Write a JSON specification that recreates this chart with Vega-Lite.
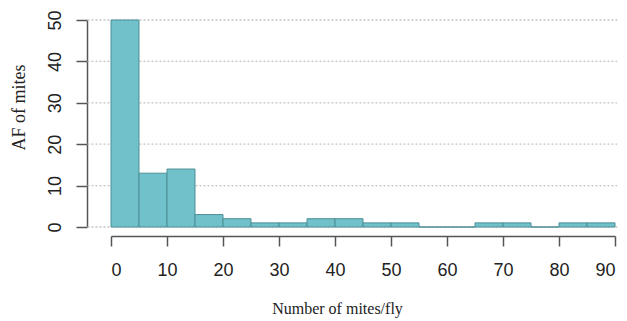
{
  "$schema": "https://vega.github.io/schema/vega-lite/v6.json",
  "autosize": {"type": "none"},
  "width": 504,
  "height": 207,
  "padding": {"left": 111, "top": 20, "right": 12, "bottom": 94},
  "background": "white",
  "config": {"view": {"stroke": null}},
  "layer": [
    {
      "data": {"values": [{"count": 0}, {"count": 10}, {"count": 20}, {"count": 30}, {"count": 40}, {"count": 50}]},
      "mark": {"type": "rule", "color": "#c4c4c4", "strokeWidth": 1.3, "strokeDash": [2, 2]},
      "encoding": {
        "y": {
          "field": "count", "type": "quantitative",
          "scale": {"domain": [0, 50], "nice": false},
          "axis": {
            "values": [0, 10, 20, 30, 40, 50],
            "offset": 24, "grid": false,
            "domainColor": "#555555", "domainWidth": 1.5,
            "tickColor": "#555555", "tickWidth": 1.5, "tickSize": 11,
            "labelFont": "Liberation Sans", "labelFontSize": 18, "labelColor": "#222222",
            "labelAngle": 270, "labelAlign": "center", "labelBaseline": "bottom", "labelPadding": 12,
            "title": "AF of mites",
            "titleFont": "Liberation Serif", "titleFontSize": 18, "titleFontWeight": "normal", "titleColor": "#222222",
            "titlePadding": 18, "titleY": 87
          }
        },
        "x": {"datum": -4.2, "type": "quantitative", "scale": {"domain": [0, 90], "nice": false}},
        "x2": {"datum": 90.4}
      }
    },
    {
      "data": {"values": [
        {"start": 0, "end": 5, "count": 50},
        {"start": 5, "end": 10, "count": 13},
        {"start": 10, "end": 15, "count": 14},
        {"start": 15, "end": 20, "count": 3},
        {"start": 20, "end": 25, "count": 2},
        {"start": 25, "end": 30, "count": 1},
        {"start": 30, "end": 35, "count": 1},
        {"start": 35, "end": 40, "count": 2},
        {"start": 40, "end": 45, "count": 2},
        {"start": 45, "end": 50, "count": 1},
        {"start": 50, "end": 55, "count": 1},
        {"start": 55, "end": 60, "count": 0},
        {"start": 60, "end": 65, "count": 0},
        {"start": 65, "end": 70, "count": 1},
        {"start": 70, "end": 75, "count": 1},
        {"start": 75, "end": 80, "count": 0},
        {"start": 80, "end": 85, "count": 1},
        {"start": 85, "end": 90, "count": 1}
      ]},
      "mark": {"type": "rect", "fill": "#70c1ca", "stroke": "#4d8f96", "strokeWidth": 1},
      "encoding": {
        "x": {
          "field": "start", "type": "quantitative",
          "scale": {"domain": [0, 90], "nice": false},
          "axis": {
            "values": [0, 10, 20, 30, 40, 50, 60, 70, 80, 90],
            "offset": 9, "grid": false,
            "domainColor": "#555555", "domainWidth": 1.5,
            "tickColor": "#555555", "tickWidth": 1.5, "tickSize": 10,
            "labelFont": "Liberation Sans", "labelFontSize": 18, "labelColor": "#222222", "labelPadding": 15,
            "title": "Number of mites/fly",
            "titleFont": "Liberation Serif", "titleFontSize": 16, "titleFontWeight": "normal", "titleColor": "#222222",
            "titlePadding": 21, "titleX": 226
          }
        },
        "x2": {"field": "end"},
        "y": {
          "field": "count", "type": "quantitative",
          "scale": {"domain": [0, 50], "nice": false},
          "axis": {
            "values": [0, 10, 20, 30, 40, 50],
            "offset": 24, "grid": false,
            "domainColor": "#555555", "domainWidth": 1.5,
            "tickColor": "#555555", "tickWidth": 1.5, "tickSize": 11,
            "labelFont": "Liberation Sans", "labelFontSize": 18, "labelColor": "#222222",
            "labelAngle": 270, "labelAlign": "center", "labelBaseline": "bottom", "labelPadding": 12,
            "title": "AF of mites",
            "titleFont": "Liberation Serif", "titleFontSize": 18, "titleFontWeight": "normal", "titleColor": "#222222",
            "titlePadding": 18, "titleY": 87
          }
        },
        "y2": {"datum": 0}
      }
    }
  ]
}
